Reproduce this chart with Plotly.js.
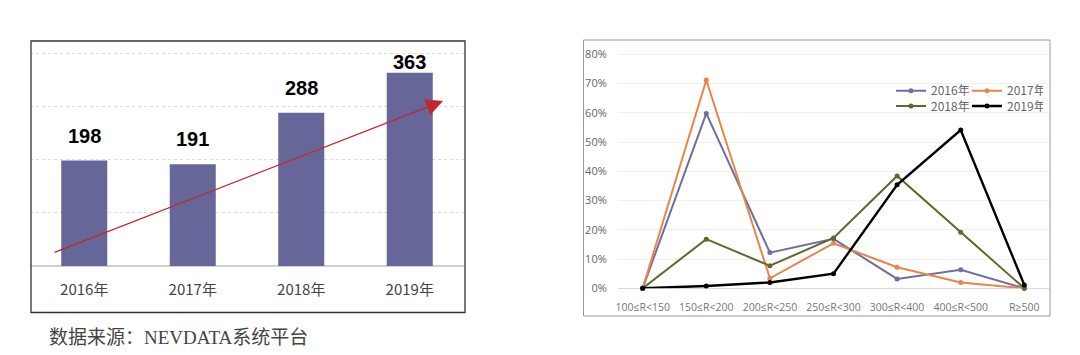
<!DOCTYPE html>
<html>
<head>
<meta charset="utf-8">
<script src="https://cdn.plot.ly/plotly-3.0.1.min.js"></script>
<style>html,body{margin:0;padding:0;background:#fff;}#chart{width:1080px;height:355px;}</style>
</head>
<body>
<div id="chart"></div>
<script>
// ---- data ----
const years = ['2016年', '2017年', '2018年', '2019年'];
const salesValues = [198, 191, 288, 363];

const rangeCats = ['100≤R<150', '150≤R<200', '200≤R<250', '250≤R<300', '300≤R<400', '400≤R<500', 'R≥500'];
const share2016 = [0.000, 0.598, 0.122, 0.169, 0.032, 0.063, 0.000];
const share2017 = [0.000, 0.712, 0.034, 0.154, 0.072, 0.020, 0.000];
const share2018 = [0.000, 0.168, 0.077, 0.172, 0.384, 0.192, 0.000];
const share2019 = [0.000, 0.008, 0.020, 0.050, 0.354, 0.541, 0.011];
const seriesNames = ['2016年', '2017年', '2018年', '2019年'];
const sourceText = '数据来源：NEVDATA系统平台';

// ---- helpers ----
const W = 1080, H = 355;
const px = v => v / W;
const py = v => 1 - v / H;

const lineColors = ['#6f6f9f', '#e8854a', '#5e6a2c', '#000000'];
const lineWidths = [2, 2, 2, 2.4];
const legendIds = ['legend', 'legend', 'legend2', 'legend2'];
const shares = [share2016, share2017, share2018, share2019];

const traces = [{
  type: 'bar', x: years, y: salesValues, xaxis: 'x', yaxis: 'y',
  marker: {color: '#666699'}, width: 0.424, showlegend: false, hoverinfo: 'skip'
}];
shares.forEach((s, i) => {
  traces.push({
    type: 'scatter', mode: 'lines+markers', name: seriesNames[i], legend: legendIds[i],
    x: rangeCats, y: s, xaxis: 'x2', yaxis: 'y2', cliponaxis: false,
    line: {color: lineColors[i], width: lineWidths[i]},
    marker: {color: lineColors[i], size: 5}
  });
});

const annotations = salesValues.map((v, i) => ({
  xref: 'x', yref: 'y', x: years[i], y: v, yshift: i === 3 ? 11 : 25,
  text: String(v), showarrow: false, yanchor: 'middle',
  font: {family: 'Liberation Sans, Arial, sans-serif', size: 20, color: '#000', weight: 'bold'}
}));
// trend arrow
annotations.push({
  xref: 'paper', yref: 'paper', x: px(443), y: py(101), ax: 53 - 443, ay: 253 - 101,
  axref: 'pixel', ayref: 'pixel', showarrow: true, text: '',
  arrowhead: 2, arrowsize: 2.6, arrowwidth: 1.3, arrowcolor: '#c0282d'
});
// source note
annotations.push({
  xref: 'paper', yref: 'paper', x: px(47), y: py(337), xanchor: 'left', yanchor: 'middle',
  text: sourceText, showarrow: false,
  font: {family: '"Liberation Serif", "Noto Sans CJK SC", serif', size: 19, color: '#444'}
});

const legendBase = {
  orientation: 'h', xanchor: 'left', yanchor: 'middle',
  bgcolor: 'rgba(0,0,0,0)', entrywidth: 31, entrywidthmode: 'pixels',
  font: {family: '"Noto Sans CJK SC", sans-serif', size: 12, color: '#666'},
  itemwidth: 30
};

const layout = {
  width: W, height: H, margin: {l: 0, r: 0, t: 0, b: 0},
  paper_bgcolor: '#fff', plot_bgcolor: '#fff', showlegend: true,
  font: {family: '"Noto Sans CJK SC", sans-serif'},
  xaxis: {
    domain: [px(30), px(464)], anchor: 'y', type: 'category',
    showgrid: false, showline: false, zeroline: false,
    ticks: 'outside', ticklen: 10, tickcolor: 'rgba(0,0,0,0)',
    tickfont: {family: '"Noto Sans CJK SC", sans-serif', size: 15, color: '#444'}
  },
  yaxis: {
    domain: [py(266), py(47.7)], anchor: 'x', range: [0, 410],
    tickvals: [100, 200, 300, 400], showticklabels: false,
    showgrid: true, gridcolor: '#dcdcdc', griddash: 'dot', gridwidth: 1,
    zeroline: true, zerolinecolor: '#d0d0d0', zerolinewidth: 1.2, showline: false
  },
  xaxis2: {
    domain: [px(618), px(1049)], anchor: 'y2', type: 'category', tickangle: 0,
    showgrid: false, showline: false, zeroline: false,
    ticks: 'outside', ticklen: 9, tickcolor: 'rgba(0,0,0,0)',
    tickfont: {family: '"Open Sans", "Noto Sans CJK SC", sans-serif', size: 10.5, color: '#777'}
  },
  yaxis2: {
    domain: [py(288.3), py(48.45)], anchor: 'x2', range: [0, 0.82],
    tickvals: [0, 0.1, 0.2, 0.3, 0.4, 0.5, 0.6, 0.7, 0.8], tickformat: '.0%',
    showgrid: true, gridcolor: '#f0f0f0', gridwidth: 1,
    zeroline: true, zerolinecolor: '#d9d9d9', zerolinewidth: 1.5, showline: false,
    ticks: 'outside', ticklen: 8, tickcolor: 'rgba(0,0,0,0)',
    tickfont: {family: '"Open Sans", sans-serif', size: 11, color: '#666'}
  },
  legend: Object.assign({}, legendBase, {x: px(891), y: py(90.7)}),
  legend2: Object.assign({}, legendBase, {x: px(891), y: py(106)}),
  shapes: [
    {type: 'rect', xref: 'paper', yref: 'paper', x0: px(31), x1: px(465), y0: py(312.5), y1: py(41),
     line: {color: '#333', width: 1.3}, fillcolor: 'rgba(0,0,0,0)'},
    {type: 'rect', xref: 'paper', yref: 'paper', x0: px(583.5), x1: px(1050), y0: py(316), y1: py(40),
     line: {color: '#999', width: 1}, fillcolor: 'rgba(0,0,0,0)'}
  ],
  annotations: annotations
};

Plotly.newPlot('chart', traces, layout, {displayModeBar: false, staticPlot: true});
</script>
</body>
</html>
